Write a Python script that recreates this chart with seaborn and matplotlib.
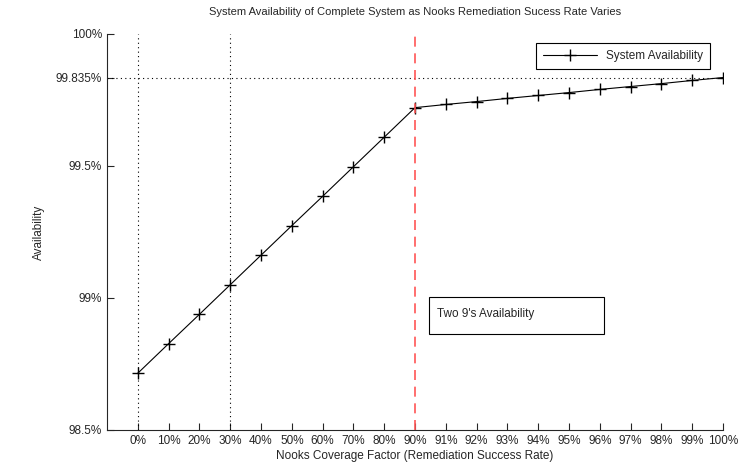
import numpy as np
import pandas as pd
import matplotlib
matplotlib.use("Agg")
import matplotlib.pyplot as plt
from matplotlib.patches import Rectangle
import seaborn as sns

# --- Datos ---
coverage_labels = ['0%', '10%', '20%', '30%', '40%', '50%', '60%', '70%', '80%', '90%',
                   '91%', '92%', '93%', '94%', '95%', '96%', '97%', '98%', '99%', '100%']
availability = [98.715, 98.827, 98.938, 99.050, 99.162, 99.274, 99.385, 99.497, 99.609, 99.721,
                99.733, 99.744, 99.756, 99.767, 99.778, 99.790, 99.801, 99.812, 99.824, 99.835]
y_ticks = [98.5, 99.0, 99.5, 99.835, 100.0]
y_tick_labels = ['98.5%', '99%', '99.5%', '99.835%', '100%']
dotted_cols = ['0%', '30%']
threshold_col = '90%'

sns.set_style("ticks")
plt.rcParams['font.family'] = ['Liberation Sans', 'DejaVu Sans']

df = pd.DataFrame({'pos': np.arange(len(coverage_labels)), 'avail': availability})

fig = plt.figure(figsize=(7.41, 4.72), dpi=100)
ax = fig.add_axes([0.1444, 0.089, 0.8313, 0.839])

# lineas de referencia
for c in dotted_cols:
    ax.axvline(coverage_labels.index(c), color='black', linestyle=(0, (1, 3)), linewidth=0.8)
ax.axhline(99.835, color='black', linestyle=(0, (1, 3)), linewidth=0.8)

sns.lineplot(data=df, x='pos', y='avail', ax=ax, color='black', linewidth=0.8,
             marker='+', markersize=8, markeredgewidth=1.0, markeredgecolor='black',
             label='System Availability')

# linea roja del umbral, por encima de la serie
ax.axvline(coverage_labels.index(threshold_col), color='#ff5555', linestyle=(0, (6, 4)),
           linewidth=1.2, zorder=4)

ax.set_xlim(-1, len(coverage_labels) - 1)
ax.set_ylim(98.5, 100.0)
ax.set_xticks(df['pos'])
ax.set_xticklabels(coverage_labels, fontsize=8.5)
ax.set_yticks(y_ticks)
ax.set_yticklabels(y_tick_labels, fontsize=8.5)
ax.tick_params(direction='in', length=5, width=0.8)
ax.spines['top'].set_visible(False)
ax.spines['right'].set_visible(False)

ax.set_title('System Availability of Complete System as Nooks Remediation Sucess Rate Varies',
             fontsize=8, pad=14)
ax.set_xlabel('Nooks Coverage Factor (Remediation Success Rate)', fontsize=8.5, labelpad=2)
ax.set_ylabel('Availability', fontsize=8.5, labelpad=8)

leg = ax.legend(loc='upper right', bbox_to_anchor=(0.979, 0.977), fontsize=8.5,
                fancybox=False, framealpha=1, edgecolor='black', borderpad=0.6,
                handlelength=4.5, borderaxespad=0)
leg.get_frame().set_linewidth(0.8)

# caja de texto "Two 9's"
ax.add_patch(Rectangle((0.523, 0.242), 0.284, 0.094, transform=ax.transAxes,
                       facecolor='white', edgecolor='black', linewidth=0.8, zorder=5))
ax.text(0.536, 0.292, "Two 9's Availability", transform=ax.transAxes, fontsize=8.5,
        va='center', ha='left', zorder=6)

fig.savefig('out.png', dpi=100)
